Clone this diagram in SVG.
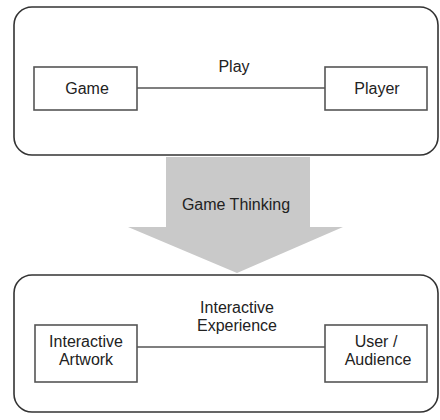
<svg xmlns="http://www.w3.org/2000/svg" width="440" height="420" viewBox="0 0 440 420">
<style>
.outer{fill:none;stroke:#333;stroke-width:1.6}
.box{fill:#fff;stroke:#555;stroke-width:1.6}
.t{font-family:"Liberation Sans",Arial,sans-serif;font-size:16px;fill:#222;text-anchor:middle}
.edge{stroke:#555;stroke-width:1.4;fill:none}
</style>
<rect width="440" height="420" fill="#fff"/>
<g id="arrow">
<polygon points="166,157 310,157 310,227 343,227 237,273 128,227 166,227" fill="#c9c9c9"/>
<text class="t" x="236" y="210">Game Thinking</text>
</g>
<g id="top-frame">
<rect class="outer" x="14" y="7" width="424" height="148" rx="18"/>
</g>
<g id="bottom-frame">
<rect class="outer" x="14" y="275" width="424" height="137" rx="18"/>
</g>
<g id="connectors">
<line class="edge" x1="137" y1="88" x2="325" y2="88"/>
<text class="t" x="234" y="72">Play</text>
<line class="edge" x1="137" y1="347" x2="325" y2="347"/>
<text class="t" x="237" y="313">Interactive</text>
<text class="t" x="237" y="331">Experience</text>
</g>
<g id="game">
<rect class="box" x="34" y="67" width="103" height="43"/>
<text class="t" x="87" y="94">Game</text>
</g>
<g id="player">
<rect class="box" x="325" y="67" width="102" height="43"/>
<text class="t" x="377" y="94">Player</text>
</g>
<g id="interactive-artwork">
<rect class="box" x="35" y="325" width="102" height="57"/>
<text class="t" x="86" y="347">Interactive</text>
<text class="t" x="86" y="365">Artwork</text>
</g>
<g id="user-audience">
<rect class="box" x="325" y="325" width="102" height="57"/>
<text class="t" x="376" y="347">User /</text>
<text class="t" x="378" y="365">Audience</text>
</g>
</svg>
